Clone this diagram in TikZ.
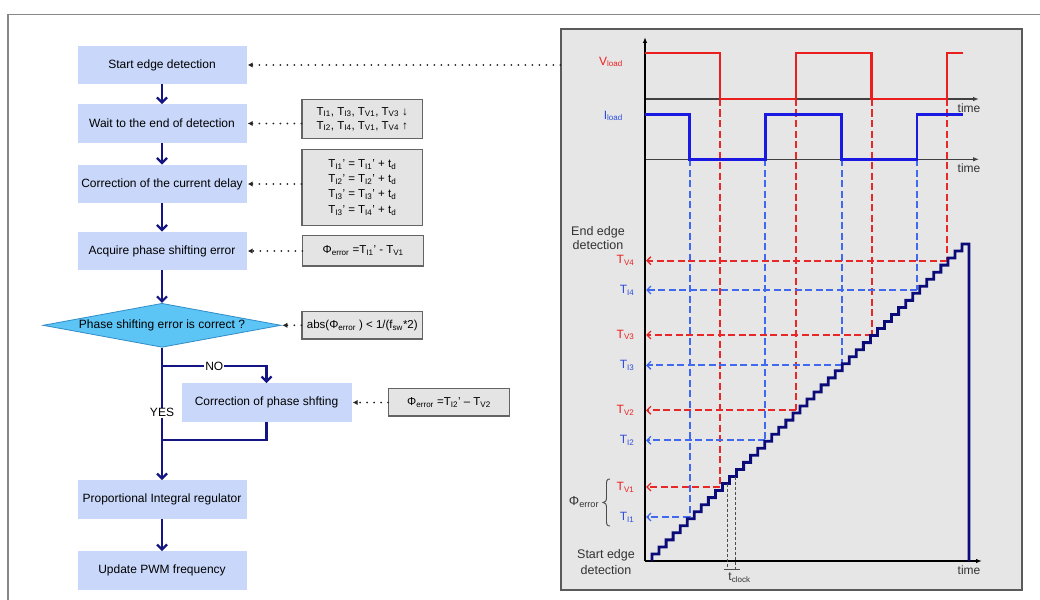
\documentclass[tikz,border=0pt]{standalone}
\usepackage{fontspec}
\setmainfont{Liberation Sans}
\usetikzlibrary{arrows.meta,shapes.geometric}
\definecolor{cflow}{RGB}{201,216,250}
\definecolor{diafill}{RGB}{92,197,245}
\definecolor{diadraw}{RGB}{50,140,200}
\definecolor{navy}{RGB}{20,20,130}
\definecolor{stairc}{RGB}{10,10,120}
\definecolor{sidefill}{RGB}{228,228,228}
\definecolor{sidedraw}{RGB}{100,100,100}
\definecolor{panelfill}{RGB}{230,230,230}
\definecolor{paneldraw}{RGB}{90,90,90}
\definecolor{framegray}{RGB}{135,135,135}
\definecolor{wred}{RGB}{235,30,30}
\definecolor{wblue}{RGB}{25,25,225}
\definecolor{dred}{RGB}{232,40,40}
\definecolor{dblue}{RGB}{65,105,240}
\definecolor{lblue}{RGB}{45,75,220}
\newcommand{\sbs}[1]{\textsubscript{#1}}
\newcommand{\ap}{\char"0027\relax}
\begin{document}
\begin{tikzpicture}[x=1pt,y=-1pt,
  fbox/.style={rectangle, fill=cflow, minimum width=169pt, minimum height=38.5pt, inner sep=0pt, font=\fontsize{12}{14}\selectfont},
  dia/.style={diamond, fill=diafill, draw=diadraw, line width=0.8pt, shape aspect=5.4, inner sep=0pt, minimum width=238pt, minimum height=44pt, font=\fontsize{12}{14}\selectfont},
  sidebox/.style={rectangle, fill=sidefill, draw=sidedraw, line width=1.2pt, minimum width=120.7pt, inner sep=0pt, align=center, font=\fontsize{11.5}{14}\selectfont},
  flowline/.style={draw=navy, line width=2.2pt},
  flow/.style={flowline, -{Straight Barb[length=5pt,width=10pt]}},
  dotarrow/.style={black!85, line width=2pt, dash pattern=on 0pt off 7pt, line cap=round, -{Latex[length=5pt,width=5.5pt]}, shorten >=1pt},
  lbl/.style={font=\fontsize{12}{14}\selectfont, inner sep=0pt},
  wave/.style={line width=2.8pt},
  dsh/.style={line width=1.7pt, dash pattern=on 7pt off 3.5pt},
  harr/.style={dsh, -{Straight Barb[length=4pt,width=8pt,line width=1.3pt]}},
  ax/.style={line width=1.1pt, -{Latex[length=6pt,width=4.5pt]}}
]
\useasboundingbox (0,0) rectangle (1040,599);
% outer frame
\draw[framegray, line width=1.5pt] (8,605) -- (8,14.5) -- (1045,14.5);
% right panel
\node[draw=paneldraw, fill=panelfill, line width=1.2pt, minimum width=461pt, minimum height=561pt, inner sep=0pt] (panel) at (791.5,309.5) {};

% ---------- flowchart ----------
\node[fbox] (b1) at (162,65) {Start edge detection};
\node[fbox] (b2) at (162,123.5) {Wait to the end of detection};
\node[fbox] (b3) at (162,184) {Correction of the current delay};
\node[fbox] (b4) at (162,251) {Acquire phase shifting error};
\node[dia] (d) at (162,325.3) {Phase shifting error is correct ?};
\node[fbox, minimum width=170pt] (b5) at (266.5,402.5) {Correction of phase shfting};
\node[fbox] (b6) at (162,499.5) {Proportional Integral regulator};
\node[fbox] (b7) at (162,570.5) {Update PWM frequency};

\node[sidebox, minimum height=39.4pt] (s1) at (362.3,119) {T\sbs{I1}, T\sbs{I3}, T\sbs{V1}, T\sbs{V3} ↓\\T\sbs{I2}, T\sbs{I4}, T\sbs{V1}, T\sbs{V4} ↑};
\node[sidebox, minimum height=76pt, font=\fontsize{11.5}{15.3}\selectfont] (s2) at (362.3,187.3) {T\sbs{I1}\ap{} = T\sbs{I1}\ap{} + t\sbs{d}\\T\sbs{I2}\ap{} = T\sbs{I2}\ap{} + t\sbs{d}\\T\sbs{I3}\ap{} = T\sbs{I3}\ap{} + t\sbs{d}\\T\sbs{I3}\ap{} = T\sbs{I4}\ap{} + t\sbs{d}};
\node[sidebox, minimum height=30.3pt] (s3) at (363.2,250.8) {Φ\sbs{error} =T\sbs{I1}\ap{} - T\sbs{V1}};
\node[sidebox, minimum height=27.3pt] (s4) at (362.3,325.3) {abs(Φ\sbs{error} ) < 1/(f\sbs{sw}*2)};
\node[sidebox, minimum height=27.3pt] (s5) at (449,402.3) {Φ\sbs{error} =T\sbs{I2}\ap{} – T\sbs{V2}};

\coordinate (split) at (162,366);
\coordinate (merge) at (162,440);
\draw[flow] (b1) -- (b2);
\draw[flow] (b2) -- (b3);
\draw[flow] (b3) -- (b4);
\draw[flow] (b4) -- (d);
\draw[flowline] (d.south) -- (split);
\draw[flow] (split) -| node[pos=0.25, fill=white, inner sep=1pt, font=\fontsize{12}{14}\selectfont] {NO} (b5.north);
\draw[flowline] (b5.south) |- (merge);
\draw[flow] (split) -- node[pos=0.41, fill=white, inner sep=1pt, font=\fontsize{12}{14}\selectfont] {YES} (b6.north);
\draw[flow] (b6) -- (b7);

\draw[dotarrow] (panel.west |- b1.east) -- (b1.east);
\draw[dotarrow] (s1.west |- b2.east) -- (b2.east);
\draw[dotarrow] (s2.west |- b3.east) -- (b3.east);
\draw[dotarrow] (s3.west |- b4.east) -- (b4.east);
\draw[dotarrow] (s4.west) -- (d.east);
\draw[dotarrow] (s5.west |- b5.east) -- (b5.east);

% ---------- timing chart ----------
\foreach \x/\y in {720/487, 796/410.3, 871.7/335, 947/260.7}
  \draw[dsh, dred] (\x,99) -- (\x,\y);
\foreach \x/\y in {689.7/517, 765.3/440.3, 841.7/365.3, 917/290}
  \draw[dsh, dblue] (\x,159.3) -- (\x,\y);
\foreach \x/\y in {720/487, 796/410.3, 871.7/335, 947/260.7}
  \draw[harr, dred] (\x,\y) -- (646,\y);
\foreach \x/\y in {689.7/517, 765.3/440.3, 841.7/365.3, 917/290}
  \draw[harr, dblue] (\x,\y) -- (646,\y);
\draw[ax, black!75] (645,99) -- (979,99);
\draw[ax, black!75] (645,159.3) -- (979,159.3);
\draw[ax, line width=1.8pt] (645,561) -- (982,561);
\draw[ax, line width=1.5pt] (645,561) -- (645,37);
\draw[wave, wred] (645,53) -- (720,53) -- (720,99) -- (796,99) -- (796,53) -- (871.7,53) -- (871.7,99) -- (947,99) -- (947,53) -- (963,53);
\draw[wave, wblue] (645,114.3) -- (689.7,114.3) -- (689.7,159.3) -- (765.3,159.3) -- (765.3,114.3) -- (841.7,114.3) -- (841.7,159.3) -- (917,159.3) -- (917,114.3) -- (963,114.3);
\draw[stairc, line width=2.8pt] (652,561) \foreach \k in {0,...,44} { -- ({652+\k*7.0455},{561-(\k+1)*7.0444}) -- ({652+(\k+1)*7.0455},{561-(\k+1)*7.0444}) } -- (969,561);
\draw[black!70, line width=0.9pt, dash pattern=on 3pt off 2pt] (727.5,483.5) -- (727.5,570);
\draw[black!70, line width=0.9pt, dash pattern=on 3pt off 2pt] (735.5,476.5) -- (735.5,570);
\draw[black!70, line width=0.9pt] (723.5,569) -- (739.5,569);
\node[lbl, text=black!80] at (739.5,578) {t\sbs{clock}};
\node[lbl, anchor=east, text=wred] at (623,62) {V\sbs{load}};
\node[lbl, anchor=east, text=lblue] at (623,116) {I\sbs{load}};
\foreach \y/\t in {260.7/V4, 335/V3, 410.3/V2, 487/V1}
  \node[lbl, anchor=east, text=wred] at (634.5,\y) {T\sbs{\t}};
\foreach \y/\t in {290/I4, 365.3/I3, 440.3/I2, 517/I1}
  \node[lbl, anchor=east, text=lblue] at (634.5,\y) {T\sbs{\t}};
\node[lbl, align=center, text=black!80, font=\fontsize{12.5}{14}\selectfont] at (598,238) {End edge\\detection};
\node[lbl, align=center, text=black!80, font=\fontsize{12.5}{16}\selectfont] at (606,562) {Start edge\\detection};
\node[lbl, text=black!80] at (969,108) {time};
\node[lbl, text=black!80] at (969,168) {time};
\node[lbl, text=black!80] at (969,570) {time};
\node[lbl, text=black!80, font=\fontsize{13}{14}\selectfont] at (584,502) {Φ\sbs{error}};
\draw[black!70, line width=0.9pt] (610,479) .. controls (606.5,479) and (606.5,481) .. (606.5,485) -- (606.5,497) .. controls (606.5,501) and (605.5,502.5) .. (603,502.5) .. controls (605.5,502.5) and (606.5,504) .. (606.5,508) -- (606.5,520) .. controls (606.5,524) and (606.5,526) .. (610,526);
\end{tikzpicture}
\end{document}
